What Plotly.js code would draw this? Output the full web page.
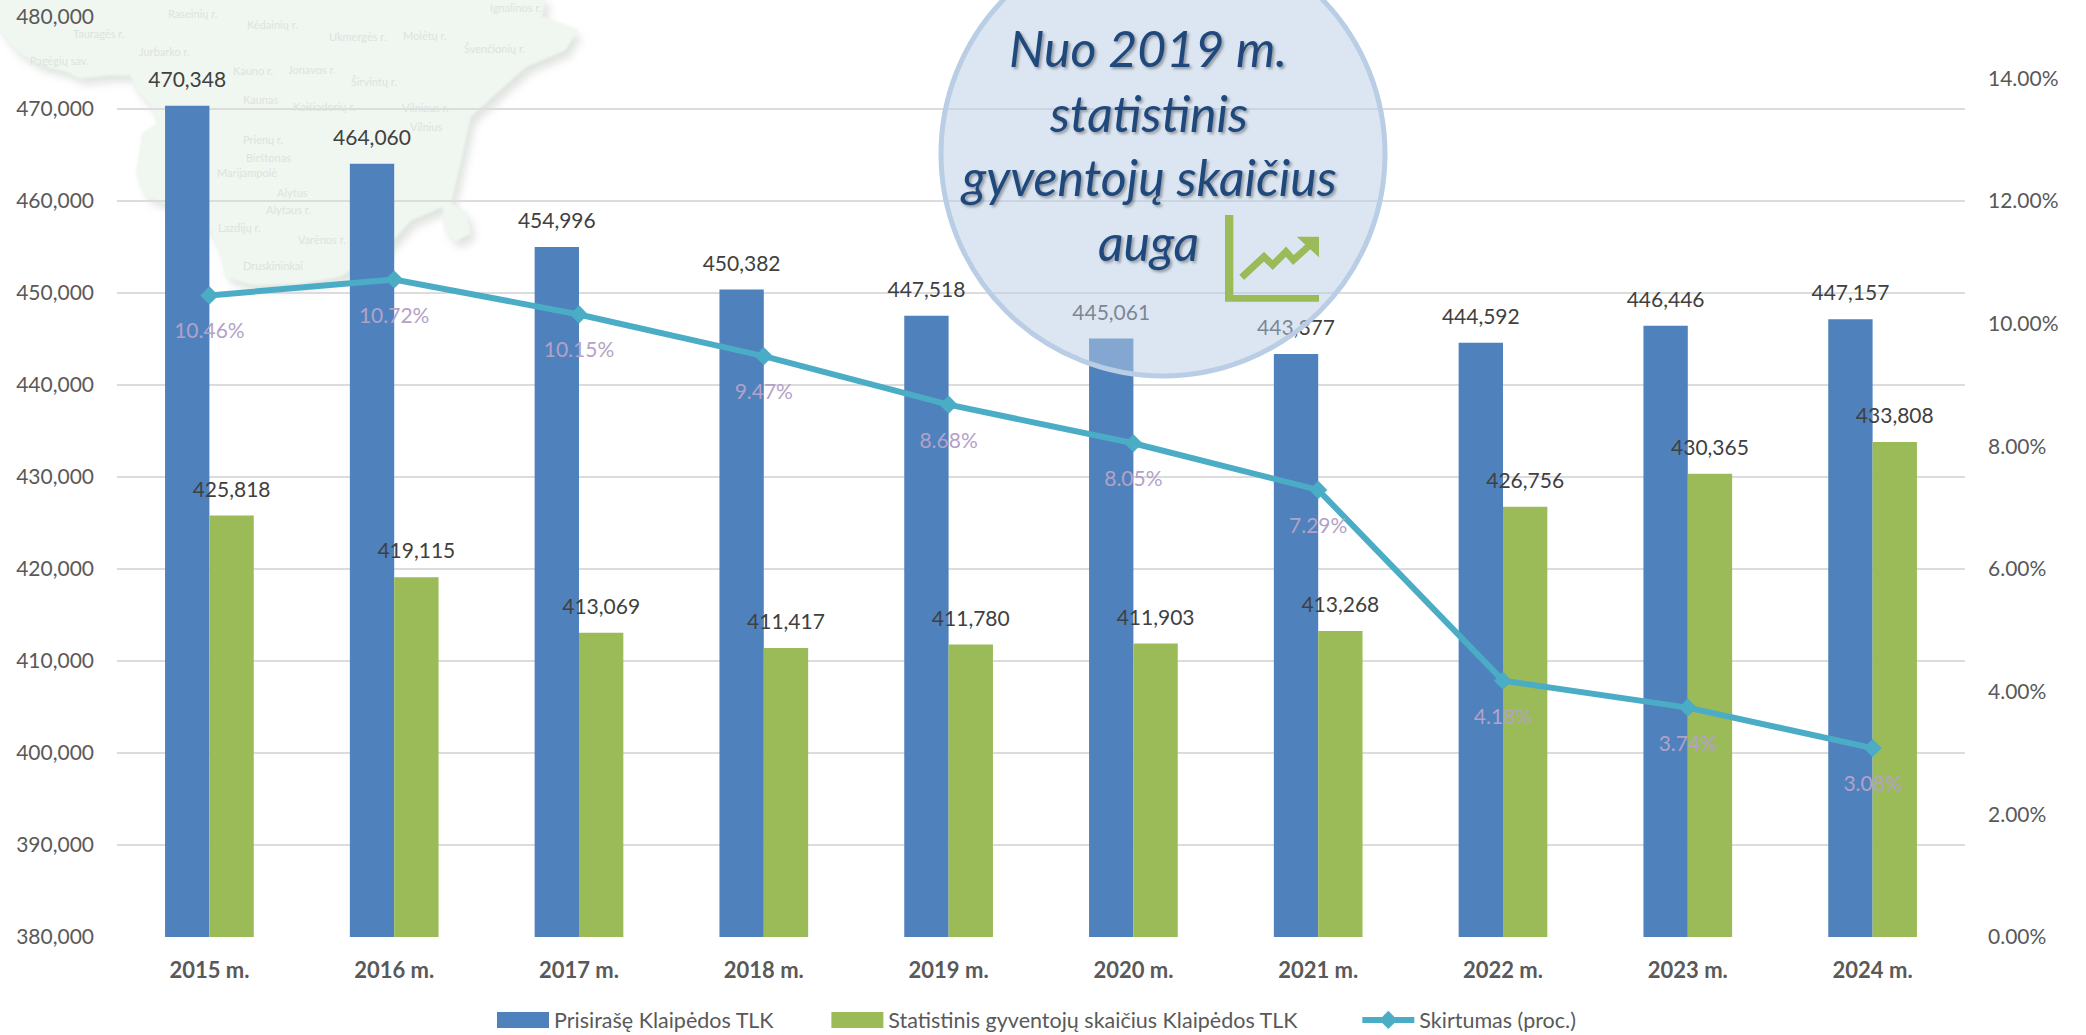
<!DOCTYPE html>
<html><head><meta charset="utf-8">
<script src="https://cdn.plot.ly/plotly-3.0.1.min.js"></script>
<style>html,body{margin:0;padding:0;background:#fff;overflow:hidden}</style>
</head><body><div id="chart" style="width:2086px;height:1035px"></div>
<script>
const categories = ["2015 m.","2016 m.","2017 m.","2018 m.","2019 m.","2020 m.","2021 m.","2022 m.","2023 m.","2024 m."];
const registered = [470348,464060,454996,450382,447518,445061,443377,444592,446446,447157];
const statistical = [425818,419115,413069,411417,411780,411903,413268,426756,430365,433808];
const difference = [0.1046,0.1072,0.1015,0.0947,0.0868,0.0805,0.0729,0.0418,0.0374,0.0308];
const seriesNames = ["Prisirašę Klaipėdos TLK","Statistinis gyventojų skaičius Klaipėdos TLK","Skirtumas (proc.)"];
const calloutLines = ["Nuo 2019 m.","statistinis","gyventojų skaičius","auga"];
const mapLabels = [["Tauragės r.",250,100],["Raseinių r.",487,42],["Kėdainių r.",690,75],["Ukmergės r.",905,110],["Molėtų r.",1075,105],["Švenčionių r.",1250,145],["Ignalinos r.",1305,24],["Jurbarko r.",415,155],["Pagėgių sav.",150,180],["Kauno r.",640,212],["Jonavos r.",790,210],["Širvintų r.",945,245],["Kaunas",660,300],["Kaišiadorių r.",820,318],["Vilniaus r.",1075,322],["Vilnius",1078,378],["Prienų r.",665,420],["Birštonas",680,472],["Marijampolė",625,518],["Alytus",740,577],["Alytaus r.",730,630],["Lazdijų r.",605,682],["Varėnos r.",815,717],["Druskininkai",690,795]];
const mapOutline = [[-10,60],[0,90],[40,150],[100,195],[170,215],[200,235],[280,225],[330,225],[345,270],[385,320],[400,370],[360,400],[355,450],[345,520],[370,590],[420,610],[530,690],[560,760],[570,830],[640,855],[760,850],[860,830],[980,740],[1040,660],[1120,620],[1125,690],[1150,725],[1190,700],[1180,640],[1140,610],[1160,510],[1190,350],[1330,200],[1430,150],[1460,90],[1370,50],[1380,-10],[-10,-10]];

const W=2086,H=1035,L=117,R=121,T=17,B=98;
const px=x=>(x-L)/(W-L-R), py=y=>(H-B-y)/(H-T-B);
const path=(pts,close)=>pts.map((p,i)=>(i?'L':'M')+px(p[0]).toFixed(5)+','+py(p[1]).toFixed(5)).join(' ')+(close?' Z':'');
const mapPts=mapOutline.map(p=>[p[0]/2.529,p[1]/3]);
const shifted=(dx,dy)=>mapPts.map(p=>[p[0]+dx,p[1]+dy]);
const icon=p=>[920+p[0]/3,p[1]/3];
const shape=(d,fill,line,width,layer)=>({type:'path',xref:'paper',yref:'paper',path:d,fillcolor:fill,line:{color:line,width:width},layer:layer});

const xs=categories.map((_,i)=>i), off=0.12;
const font='Lato, sans-serif';
const fmt=v=>v.toLocaleString('en-US');
const labelTrace=(x,y,text,color,size,pos,yaxis)=>({type:'scatter',mode:'markers+text',x,y,text,yaxis,textposition:pos,
  textfont:{family:font,size:21,color},marker:{size,opacity:0},showlegend:false,hoverinfo:'skip'});

const data=[
 {type:'bar',name:seriesNames[0],x:xs,y:registered,marker:{color:'#4f81bd'}},
 {type:'bar',name:seriesNames[1],x:xs,y:statistical,marker:{color:'#9bbb59'}},
 labelTrace(xs.map(i=>i-off),registered,registered.map(fmt),'#404040',20,'top center','y'),
 labelTrace(xs.map(i=>i+off),statistical,statistical.map(fmt),'#404040',20,'top center','y'),
 {type:'scatter',mode:'lines+markers',name:seriesNames[2],x:xs,y:difference,yaxis:'y2',
  line:{color:'#4bacc6',width:6},marker:{symbol:'diamond',size:14,color:'#4bacc6'}},
 labelTrace(xs,difference,difference.map(v=>(v*100).toFixed(2)+'%'),'#b3a2c7',42,'bottom center','y2')
];

const shapes=[
 shape(path(shifted(5,7),true),'#e0e4e0','rgba(0,0,0,0)',0,'below'),
 shape(path(mapPts,true),'#eff7f0','#edf5ee',1,'below'),
 {type:'circle',xref:'paper',yref:'paper',x0:px(1163-222),x1:px(1163+222),y0:py(154+222),y1:py(154-222),
  fillcolor:'rgba(185,205,229,0.5)',line:{color:'#b9cde5',width:5},layer:'above'},
 shape(path([[915,645],[940,645],[940,885],[1197,885],[1197,905],[915,905]].map(icon),true),'#9bbb59','rgba(0,0,0,0)',0,'above'),
 shape(path([[965,832],[1032,770],[1058,795],[1098,755],[1120,780],[1170,735]].map(icon),false),'rgba(0,0,0,0)','#9bbb59',7,'above'),
 shape(path([[1130,710],[1197,710],[1197,772]].map(icon),true),'#9bbb59','rgba(0,0,0,0)',0,'above')
];

const annotations=[
 ...mapLabels.map(m=>({xref:'paper',yref:'paper',x:px(m[1]/2.529),y:py(m[2]/3),text:m[0],showarrow:false,xanchor:'center',yanchor:'middle',
   font:{family:font,size:11,color:'#dde3dd'}})),
 ...calloutLines.map((t,i)=>({xref:'paper',yref:'paper',x:px(1148),y:py([48,113,177,242][i]),text:'<i>'+t+'</i>',showarrow:false,xanchor:'center',yanchor:'middle',
   font:{family:font,size:50,color:'#1f497d',shadow:'2px 2px 3px rgba(0,0,0,0.35)'}}))
];

const layout={
 width:W,height:H,margin:{l:L,r:R,t:T,b:B,pad:0,autoexpand:false},paper_bgcolor:'#fff',plot_bgcolor:'rgba(0,0,0,0)',
 barmode:'group',bargap:0.52,bargroupgap:0,showlegend:true,hovermode:false,
 font:{family:font,size:21,color:'#595959'},
 xaxis:{range:[-0.5,9.5],tickmode:'array',tickvals:xs,ticktext:categories.map(c=>'<b>'+c+'</b>'),showgrid:false,zeroline:false,showline:false,ticks:'',automargin:false,
   tickfont:{family:font,size:22,color:'#595959'},ticklabelstandoff:18},
 yaxis:{range:[380000,480000],dtick:10000,tickformat:',d',showgrid:true,gridcolor:'#dcdcdc',gridwidth:2,zeroline:false,showline:false,ticks:'',automargin:false,
   tickfont:{family:font,size:21,color:'#595959'},ticklabelstandoff:22},
 yaxis2:{overlaying:'y',side:'right',range:[0,0.15],tickmode:'array',tickvals:[0,0.02,0.04,0.06,0.08,0.1,0.12,0.14],tickformat:'.2%',showgrid:false,zeroline:false,showline:false,ticks:'',automargin:false,
   tickfont:{family:font,size:21,color:'#595959'},ticklabelstandoff:22},
 legend:{orientation:'h',x:px(492),xanchor:'left',y:py(1020),yanchor:'middle',bgcolor:'rgba(0,0,0,0)',itemwidth:52,tracegroupgap:0,
   font:{family:font,size:21.5,color:'#595959'}},
 shapes,annotations
};

const legendShift=[0,47,101];
Plotly.newPlot('chart',data,layout,{displayModeBar:false,staticPlot:true}).then(()=>{
  const t=document.querySelectorAll('.legend .traces');
  [0,1].forEach(i=>{ if(t[i]) t[i].querySelectorAll('.legendpoints path').forEach(p=>p.setAttribute('d','M-26,-8h52v16h-52z')); });
  document.querySelectorAll('.legend .scrollbox').forEach(s=>s.removeAttribute('clip-path'));
  t.forEach((el,i)=>{
    const m=/translate\(\s*([-\d.]+)[ ,]+([-\d.]+)\s*\)/.exec(el.getAttribute('transform')||'');
    if(m) el.setAttribute('transform','translate('+(parseFloat(m[1])+legendShift[i])+','+m[2]+')');
  });
  const below=document.querySelectorAll('.layer-below .shapelayer path');
  if(below[0]) below[0].style.filter='blur(4px)';
  if(below[1]) below[1].style.filter='blur(1px)';
});
</script></body></html>
